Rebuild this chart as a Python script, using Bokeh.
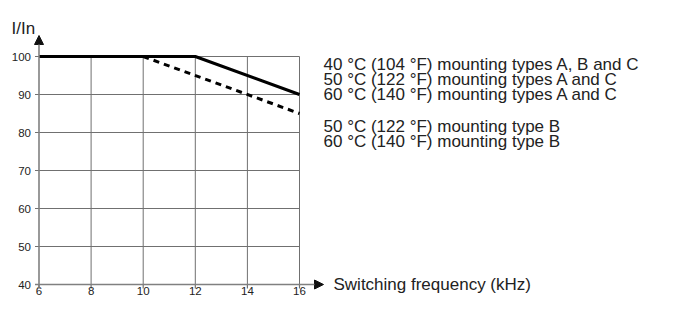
from bokeh.plotting import figure
from bokeh.models import Range1d, Arrow, NormalHead
from bokeh.embed import file_html
from bokeh.resources import INLINE
from bokeh.core.properties import value

# ---------------- data ----------------
freq_ticks = [6, 8, 10, 12, 14, 16]
iin_ticks = [40, 50, 60, 70, 80, 90, 100]

# solid curve: 40 °C A,B,C / 50 °C A,C / 60 °C A,C
freq_ac = [6, 12, 16]
iin_ac = [100, 100, 90]
# dashed curve: 50 °C B / 60 °C B
freq_b = [10, 16]
iin_b = [100, 85]

legend_ac = [
    "40 °C (104 °F) mounting types A, B and C",
    "50 °C (122 °F) mounting types A and C",
    "60 °C (140 °F) mounting types A and C",
]
legend_b = [
    "50 °C (122 °F) mounting type B",
    "60 °C (140 °F) mounting type B",
]
y_title = "I/In"
x_title = "Switching frequency (kHz)"

# ---------------- layout (canvas pixels) ----------------
W, H = 660, 297
PX_X_LO, PX_X_HI = 38.5, 299.0   # where first / last x tick sit
PX_Y_HI, PX_Y_LO = 56.0, 284.0   # where top / bottom y tick sit (from top)
PX_X_TIP = 323.0                 # x-axis arrow tip
PX_Y_TIP = 35.0                  # y-axis arrow tip (from top)
TICK = 4.0
FONT = value("Liberation Sans")
TXT = "#222222"
GRID = "#707070"

x_lo, x_hi = freq_ticks[0], freq_ticks[-1]
y_lo, y_hi = iin_ticks[0], iin_ticks[-1]
sx = (PX_X_HI - PX_X_LO) / (x_hi - x_lo)
sy = (PX_Y_LO - PX_Y_HI) / (y_hi - y_lo)
x_start = x_lo - PX_X_LO / sx
y_start = y_lo - (H - PX_Y_LO) / sy


def dx(px):
    return x_start + px / sx


def dy(px_top):
    return y_start + (H - px_top) / sy


p = figure(width=W, height=H,
           x_range=Range1d(x_start, x_start + W / sx),
           y_range=Range1d(y_start, y_start + H / sy),
           output_backend="svg", toolbar_location=None,
           x_axis_type=None, y_axis_type=None, title=None,
           min_border=0)
p.outline_line_color = None
p.background_fill_color = "white"
p.border_fill_color = "white"

# grid
vx = freq_ticks[1:]
p.segment(x0=vx, y0=[y_lo] * len(vx), x1=vx, y1=[y_hi] * len(vx),
          line_color=GRID, line_width=1)
hy = iin_ticks[1:]
p.segment(x0=[x_lo] * len(hy), y0=hy, x1=[x_hi] * len(hy), y1=hy,
          line_color=GRID, line_width=1)

# tick marks
p.segment(x0=[dx(PX_X_LO - TICK)] * len(iin_ticks), y0=iin_ticks,
          x1=[x_lo] * len(iin_ticks), y1=iin_ticks,
          line_color=GRID, line_width=1.2)
p.segment(x0=freq_ticks, y0=[y_lo] * len(freq_ticks),
          x1=freq_ticks, y1=[dy(PX_Y_LO + TICK)] * len(freq_ticks),
          line_color=GRID, line_width=1.2)

# axes with arrows
p.add_layout(Arrow(x_start=x_lo, y_start=dy(PX_Y_LO + TICK), x_end=x_lo, y_end=dy(PX_Y_TIP),
                   line_color="#808080", line_width=1.6,
                   end=NormalHead(size=9, fill_color="#111111", line_color="#111111", line_width=1)))
p.add_layout(Arrow(x_start=dx(PX_X_LO - TICK), y_start=y_lo, x_end=dx(PX_X_TIP), y_end=y_lo,
                   line_color="#808080", line_width=1.6,
                   end=NormalHead(size=9, fill_color="#111111", line_color="#111111", line_width=1)))

# curves
p.line(freq_ac, iin_ac, line_color="black", line_width=3)
p.line(freq_b, iin_b, line_color="black", line_width=3, line_dash="6 5")

# tick labels
p.text(x=[x_lo] * len(iin_ticks), y=iin_ticks, text=[str(v) for v in iin_ticks],
       x_offset=-8, text_align="right", text_baseline="middle",
       text_font=FONT, text_font_size="11.5px", text_color=TXT)
p.text(x=freq_ticks, y=[y_lo] * len(freq_ticks), text=[str(v) for v in freq_ticks],
       y_offset=2, text_align="center", text_baseline="top",
       text_font=FONT, text_font_size="11.5px", text_color=TXT)

# axis titles
p.text(x=[dx(11)], y=[dy(28)], text=[y_title], text_align="left",
       text_baseline="alphabetic", text_font=FONT, text_font_size="17px", text_color=TXT)
p.text(x=[dx(PX_X_TIP)], y=[y_lo], text=[x_title], x_offset=10, text_align="left",
       text_baseline="middle", text_font=FONT, text_font_size="17px", text_color=TXT)

# legend texts
leg_px = [64, 79, 94]
p.text(x=[dx(PX_X_TIP)] * len(legend_ac), y=[dy(v) for v in leg_px], text=legend_ac,
       text_align="left", text_baseline="alphabetic",
       text_font=FONT, text_font_size="17px", text_color=TXT)
leg_px_b = [126, 141]
p.text(x=[dx(PX_X_TIP)] * len(legend_b), y=[dy(v) for v in leg_px_b], text=legend_b,
       text_align="left", text_baseline="alphabetic",
       text_font=FONT, text_font_size="17px", text_color=TXT)

open("out.html", "w").write(file_html(p, INLINE))
